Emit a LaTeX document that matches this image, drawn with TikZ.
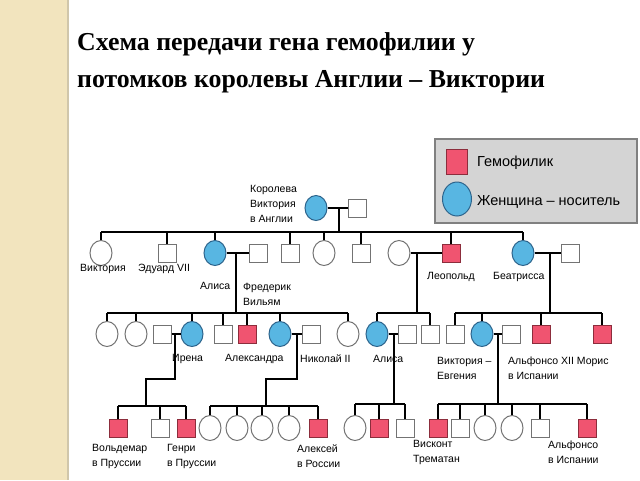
\documentclass[tikz,border=0pt]{standalone}
\usepackage{fontspec}
\setmainfont{Liberation Serif}
\setsansfont{Liberation Sans}
\usetikzlibrary{shapes.geometric}

\definecolor{carrierblue}{RGB}{88,182,226}
\definecolor{carrierrim}{RGB}{45,100,140}
\definecolor{hemored}{RGB}{240,84,112}
\definecolor{hemorim}{RGB}{140,45,60}
\definecolor{stripe}{RGB}{242,228,190}
\definecolor{legendgrey}{RGB}{212,212,212}

\tikzset{
	fem/.style = {ellipse, draw=gray!90!black, line width=1, fill=white, minimum width=22, minimum height=25, inner sep=0},
	mal/.style = {rectangle, draw=gray!90!black, line width=1, fill=white, minimum size=18, inner sep=0},
	carrier/.style = {fem, fill=carrierblue, draw=carrierrim},
	hemo/.style = {mal, fill=hemored, draw=hemorim},
	tie/.style = {line width=2.2, black},
	who/.style = {font=\sffamily\fontsize{10.5}{15}\selectfont, align=left, inner sep=0, anchor=west}
}

\begin{document}
\begin{tikzpicture}[x=1pt, y=-1pt]
	\useasboundingbox (0,0) rectangle (640,480);
	\fill[stripe] (0,0) rectangle (68,480);
	\draw[line width=1.5, stripe!70!gray] (68,0) -- (68,480);

	\node (title1) at (77,50) [anchor=base west, inner sep=0, font=\bfseries\fontsize{25.8}{30}\selectfont] {Схема передачи гена гемофилии у};
	\node (title2) at (77,87) [anchor=base west, inner sep=0, font=\bfseries\fontsize{25.8}{30}\selectfont] {потомков королевы Англии – Виктории};

	% legend
	\node (legend) at (536,181) [rectangle, draw=gray, line width=1.5, fill=legendgrey, minimum width=202, minimum height=84] {};
	\node (keyhemo) at (457,162) [hemo, minimum width=21, minimum height=25] {};
	\node (keycarrier) at (457,199) [carrier, minimum width=29, minimum height=34] {};
	\node (keyhemotext) at (477,163) [who, font=\sffamily\fontsize{14.5}{16}\selectfont] {Гемофилик};
	\node (keycarriertext) at (477,202) [who, font=\sffamily\fontsize{14.5}{16}\selectfont] {Женщина – носитель};

	% queen
	\node (queen) at (316,208) [carrier] {};
	\node (albert) at (357,208) [mal] {};
	\draw[tie] (queen) -- (albert);
	\coordinate (gen1) at (339,232);
	\draw[tie] (gen1 |- queen) -- (gen1);

	% first generation
	\node (vicky) at (101,253) [fem] {};
	\node (edward) at (167,253) [mal] {};
	\node (alice) at (215,253) [carrier] {};
	\node (fritz) at (258,253) [mal] {};
	\node (son2) at (290,253) [mal] {};
	\node (dau3) at (324,253) [fem] {};
	\node (son3) at (361,253) [mal] {};
	\node (helena) at (399,253) [fem] {};
	\node (leopold) at (451,253) [hemo] {};
	\node (beatrice) at (523,253) [carrier] {};
	\node (henry) at (570,253) [mal] {};

	\draw[tie] (vicky.north |- gen1) -- (beatrice.north |- gen1);
	\foreach \kid in {vicky,edward,alice,son2,dau3,son3,leopold,beatrice}
		\draw[tie] (\kid.north |- gen1) -- (\kid.north);

	\draw[tie] (alice) -- (fritz);
	\draw[tie] (helena) -- (leopold);
	\draw[tie] (beatrice) -- (henry);
	\coordinate (hesse) at (236,313);
	\coordinate (albany) at (417,313);
	\coordinate (battenberg) at (550,313);
	\draw[tie] (hesse |- alice) -- (hesse);
	\draw[tie] (albany |- leopold) -- (albany);
	\draw[tie] (battenberg |- beatrice) -- (battenberg);

	\node (lqueen) at (250,204) [who] {Королева\\Виктория\\в Англии};
	\node (lvicky) at (80,269) [who] {Виктория};
	\node (ledward) at (138,269) [who] {Эдуард VII};
	\node (lalice) at (200,286) [who] {Алиса};
	\node (lfritz) at (243,294) [who] {Фредерик\\Вильям};
	\node (lleopold) at (427,277) [who] {Леопольд};
	\node (lbeatrice) at (493,277) [who] {Беатрисса};

	% second generation
	\node (h1) at (107,334) [fem] {};
	\node (h2) at (136,334) [fem] {};
	\node (heinrich) at (162,334) [mal] {};
	\node (irene) at (192,334) [carrier] {};
	\node (h5) at (223,334) [mal] {};
	\node (h6) at (247,334) [hemo] {};
	\node (alix) at (280,334) [carrier] {};
	\node (nicholas) at (311,334) [mal] {};
	\node (h8) at (348,334) [fem] {};

	\node (alba) at (377,334) [carrier] {};
	\node (teck) at (407,334) [mal] {};
	\node (charles) at (430,334) [mal] {};

	\node (b1) at (455,334) [mal] {};
	\node (ena) at (482,334) [carrier] {};
	\node (alfonso) at (511,334) [mal] {};
	\node (leopoldb) at (541,334) [hemo] {};
	\node (maurice) at (602,334) [hemo] {};

	\draw[tie] (h1.north |- hesse) -- (h8.north |- hesse);
	\foreach \kid in {h1,h2,irene,h5,h6,alix,h8}
		\draw[tie] (\kid.north |- hesse) -- (\kid.north);
	\draw[tie] (alba.north |- albany) -- (charles.north |- albany);
	\foreach \kid in {alba,charles}
		\draw[tie] (\kid.north |- albany) -- (\kid.north);
	\draw[tie] (b1.north |- battenberg) -- (maurice.north |- battenberg);
	\foreach \kid in {b1,ena,leopoldb,maurice}
		\draw[tie] (\kid.north |- battenberg) -- (\kid.north);

	\draw[tie] (heinrich) -- (irene);
	\draw[tie] (alix) -- (nicholas);
	\draw[tie] (alba) -- (teck);
	\draw[tie] (ena) -- (alfonso);

	\coordinate (prussia) at (146,406);
	\coordinate (russia) at (266,406);
	\coordinate (athlone) at (394,404);
	\coordinate (spain) at (498,404);
	\draw[tie] (175,334) -- (175,379) -| (prussia);
	\draw[tie] (297,334) -- (297,379) -| (russia);
	\draw[tie] (athlone |- alba) -- (athlone);
	\draw[tie] (spain |- ena) -- (spain);

	\node (lirene) at (172,359) [who] {Ирена};
	\node (lalix) at (225,359) [who] {Александра};
	\node (lnicholas) at (300,359) [who] {Николай II};
	\node (lalba) at (373,359) [who] {Алиса};
	\node (lena) at (437,368) [who] {Виктория –\\Евгения};
	\node (lmaurice) at (508,368) [who] {Альфонсо XII Морис\\в Испании};

	% third generation
	\node (waldemar) at (118,428) [hemo] {};
	\node (p2) at (160,428) [mal] {};
	\node (henrypr) at (186,428) [hemo] {};

	\node (r1) at (210,428) [fem] {};
	\node (r2) at (237,428) [fem] {};
	\node (r3) at (262,428) [fem] {};
	\node (r4) at (289,428) [fem] {};
	\node (alexei) at (318,428) [hemo] {};

	\node (a1) at (355,428) [fem] {};
	\node (rupert) at (379,428) [hemo] {};
	\node (a3) at (405,428) [mal] {};

	\node (alfonsop) at (438,428) [hemo] {};
	\node (s2) at (460,428) [mal] {};
	\node (s3) at (485,428) [fem] {};
	\node (s4) at (512,428) [fem] {};
	\node (s5) at (540,428) [mal] {};
	\node (gonzalo) at (587,428) [hemo] {};

	\draw[tie] (waldemar.north |- prussia) -- (henrypr.north |- prussia);
	\foreach \kid in {waldemar,p2,henrypr}
		\draw[tie] (\kid.north |- prussia) -- (\kid.north);
	\draw[tie] (r1.north |- russia) -- (alexei.north |- russia);
	\foreach \kid in {r1,r2,r3,r4,alexei}
		\draw[tie] (\kid.north |- russia) -- (\kid.north);
	\draw[tie] (a1.north |- athlone) -- (a3.north |- athlone);
	\foreach \kid in {a1,rupert,a3}
		\draw[tie] (\kid.north |- athlone) -- (\kid.north);
	\draw[tie] (alfonsop.north |- spain) -- (gonzalo.north |- spain);
	\foreach \kid in {alfonsop,s2,s3,s4,s5,gonzalo}
		\draw[tie] (\kid.north |- spain) -- (\kid.north);

	\node (lwaldemar) at (92,456) [who] {Вольдемар\\в Пруссии};
	\node (lhenrypr) at (167,456) [who] {Генри\\в Пруссии};
	\node (lalexei) at (297,456) [who] {Алексей\\в России};
	\node (lrupert) at (413,452) [who] {Висконт\\Трематан};
	\node (lgonzalo) at (548,452) [who] {Альфонсо\\в Испании};
\end{tikzpicture}
\end{document}
